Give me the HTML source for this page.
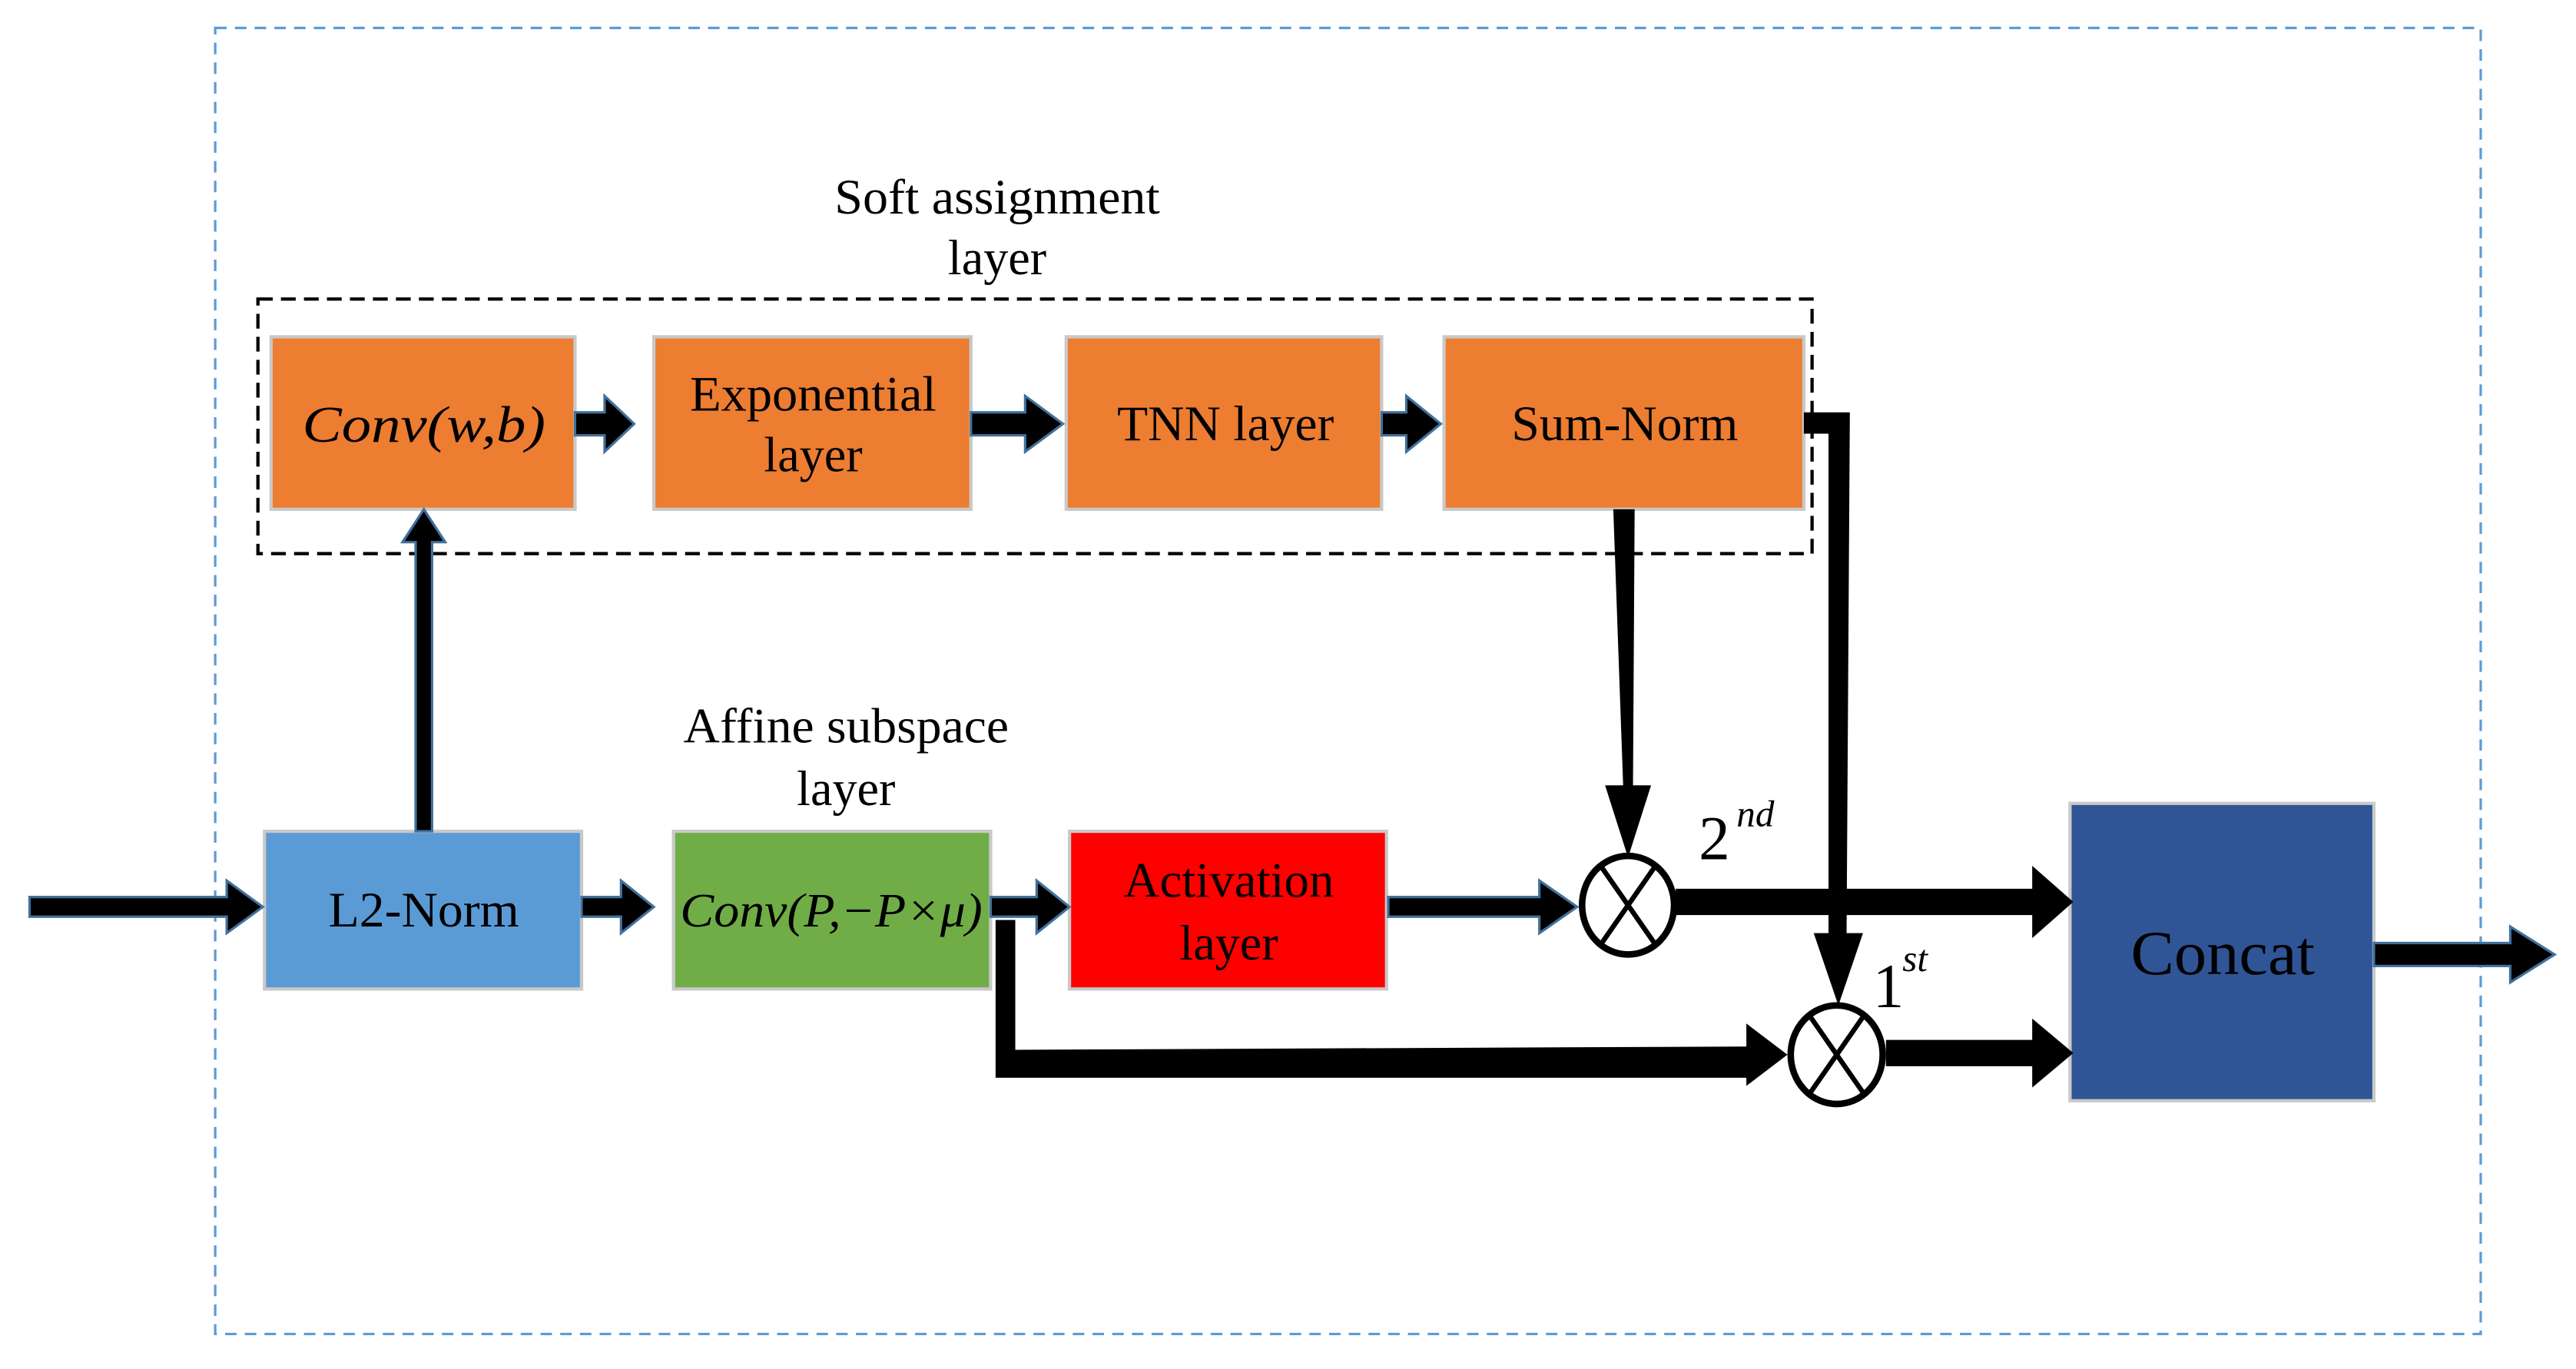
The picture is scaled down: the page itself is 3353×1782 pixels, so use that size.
<!DOCTYPE html>
<html><head><meta charset="utf-8"><style>
html,body{margin:0;padding:0;background:#fff;}
svg{display:block;}
text{font-family:"Liberation Serif",serif;fill:#000;}
</style></head><body>
<svg width="3353" height="1782" viewBox="0 0 1568 833.3" preserveAspectRatio="none" xmlns="http://www.w3.org/2000/svg">
<rect x="131" y="17" width="1379" height="795" fill="none" stroke="#5B9BD5" stroke-width="1.5" stroke-dasharray="7,5"/>
<rect x="157" y="182" width="946" height="155" fill="none" stroke="#000" stroke-width="2" stroke-dasharray="9,5"/>

<text x="607" y="130" font-size="30" text-anchor="middle" textLength="198" lengthAdjust="spacingAndGlyphs">Soft assignment</text>
<text x="607" y="167" font-size="30" text-anchor="middle">layer</text>
<text x="515" y="452" font-size="30" text-anchor="middle" textLength="198" lengthAdjust="spacingAndGlyphs">Affine subspace</text>
<text x="515" y="490" font-size="30" text-anchor="middle">layer</text>

<g stroke="#C9C9C9" stroke-width="2">
<rect x="165" y="205" width="185" height="105" fill="#ED7D31"/>
<rect x="398" y="205" width="193" height="105" fill="#ED7D31"/>
<rect x="649" y="205" width="192" height="105" fill="#ED7D31"/>
<rect x="879" y="205" width="219" height="105" fill="#ED7D31"/>
<rect x="161" y="506" width="193" height="96" fill="#5B9BD5"/>
<rect x="410" y="506" width="193" height="96" fill="#70AD47"/>
<rect x="651" y="506" width="193" height="96" fill="#FF0000"/>
<rect x="1260" y="489" width="185" height="181" fill="#2F5597"/>
</g>

<text x="258" y="269" font-size="31" font-style="italic" text-anchor="middle" textLength="148" lengthAdjust="spacingAndGlyphs">Conv(w,b)</text>
<text x="495" y="250" font-size="30" text-anchor="middle" textLength="150" lengthAdjust="spacingAndGlyphs">Exponential</text>
<text x="495" y="287" font-size="30" text-anchor="middle">layer</text>
<text x="746" y="268" font-size="30" text-anchor="middle" textLength="132" lengthAdjust="spacingAndGlyphs">TNN layer</text>
<text x="989" y="268" font-size="30" text-anchor="middle" textLength="138" lengthAdjust="spacingAndGlyphs">Sum-Norm</text>
<text x="258" y="564" font-size="30" text-anchor="middle" textLength="116" lengthAdjust="spacingAndGlyphs">L2-Norm</text>
<text x="506" y="564" font-size="29" font-style="italic" text-anchor="middle" textLength="184" lengthAdjust="spacingAndGlyphs">Conv(P,−P×μ)</text>
<text x="748" y="546" font-size="30" text-anchor="middle" textLength="128" lengthAdjust="spacingAndGlyphs">Activation</text>
<text x="748" y="584" font-size="30" text-anchor="middle">layer</text>
<text x="1353" y="593" font-size="38" text-anchor="middle" fill="#000" textLength="112" lengthAdjust="spacingAndGlyphs">Concat</text>

<g fill="#000" stroke="#41719C" stroke-width="1.5" stroke-linejoin="miter">
<polygon points="18,546 138,546 138,536 160,552 138,568 138,558 18,558"/>
<polygon points="354,546 378,546 378,536 398,552 378,568 378,558 354,558"/>
<polygon points="350,251 368,251 368,241 386,258 368,275 368,265 350,265"/>
<polygon points="591,251 624,251 624,241 647,258 624,275 624,265 591,265"/>
<polygon points="841,251 856,251 856,241 877,258 856,275 856,265 841,265"/>
<polygon points="603,546 631,546 631,536 651,552 631,568 631,558 603,558"/>
<polygon points="845,546 937,546 937,536 960,552 937,568 937,558 845,558"/>
<polygon points="1445,574 1528,574 1528,564 1555,581 1528,598 1528,588 1445,588"/>
<polygon points="253,506 253,330 245,330 258,310 271,330 263,330 263,506"/>
</g>
<g fill="#000">
<polygon points="1020,541 1237,541 1237,527 1262,549 1237,571 1237,557 1020,557"/>
<polygon points="1148,633 1237,633 1237,620 1262,641 1237,662 1237,649 1148,649"/>
<polygon points="982,310 995,310 994,478 1005,478 991,522 977,478 988,478"/>
<polygon points="1098,251 1126,251 1124,568 1134,568 1119,612 1104,568 1113,568 1113,264 1098,264"/>
<polygon points="606,560 618,560 618,639 1063,637 1063,623 1088,642 1063,661 1063,656 606,656"/>
</g>

<g fill="#fff" stroke="#000" stroke-width="4">
<ellipse cx="991" cy="551" rx="28" ry="30"/>
<ellipse cx="1118" cy="642" rx="28" ry="30"/>
</g>
<g stroke="#000" stroke-width="3">
<line x1="975" y1="528" x2="1007" y2="574"/><line x1="1007" y1="528" x2="975" y2="574"/>
<line x1="1102" y1="619" x2="1134" y2="665"/><line x1="1134" y1="619" x2="1102" y2="665"/>
</g>

<text x="1034" y="523" font-size="38">2</text>
<text x="1057" y="503" font-size="23" font-style="italic">nd</text>
<text x="1140" y="613" font-size="38">1</text>
<text x="1158" y="591" font-size="23" font-style="italic">st</text>
</svg>
</body></html>
